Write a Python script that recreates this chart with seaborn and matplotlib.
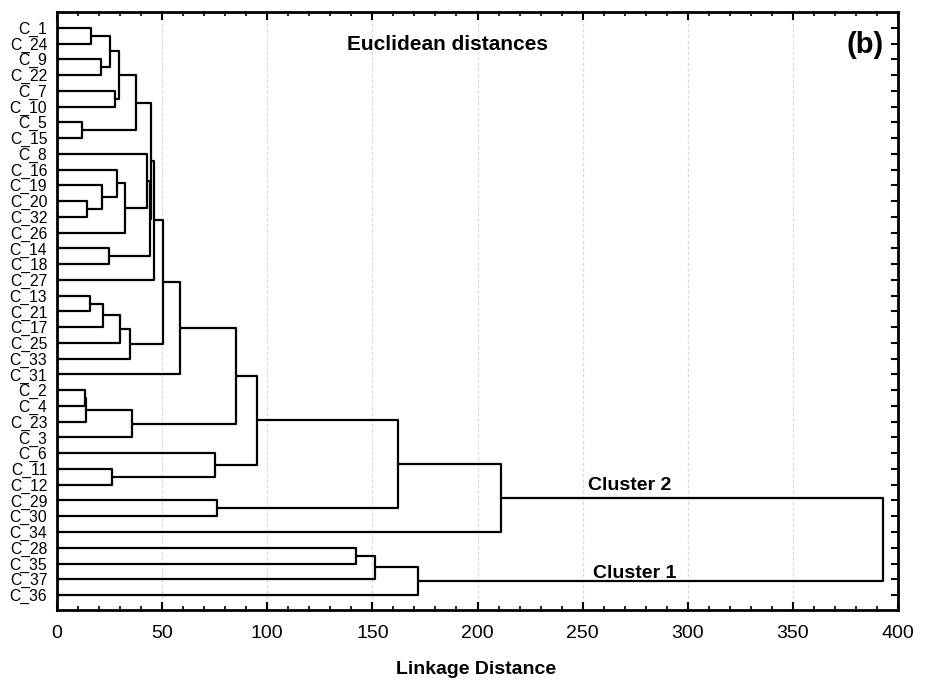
import numpy as np
import pandas as pd
import matplotlib
matplotlib.use("Agg")
import matplotlib.pyplot as plt
import seaborn as sns
from matplotlib.ticker import MultipleLocator

# Leaf order (top to bottom)
leaves = ["C_1", "C_24", "C_9", "C_22", "C_7", "C_10", "C_5", "C_15", "C_8",
          "C_16", "C_19", "C_20", "C_32", "C_26", "C_14", "C_18", "C_27",
          "C_13", "C_21", "C_17", "C_25", "C_33", "C_31", "C_2", "C_4",
          "C_23", "C_3", "C_6", "C_11", "C_12", "C_29", "C_30", "C_34",
          "C_28", "C_35", "C_37", "C_36"]

# Merges: child references are leaf names (str) or earlier merge indices (int)
merge_a = ["C_1", "C_9", 0, "C_7", 2, "C_5", 4,
           "C_20", 7, "C_16", 9, "C_8", "C_14", 11,
           6, 14, "C_13", 16, 17, 18, 15, 20,
           "C_2", 22, 23, 21, "C_11", "C_6", 25, "C_29", 28, 30,
           "C_28", 32, 33, 31]
merge_b = ["C_24", "C_22", 1, "C_10", 3, "C_15", 5,
           "C_32", "C_19", 8, "C_26", 10, "C_18", 12,
           13, "C_27", "C_21", "C_17", "C_25", "C_33", 19, "C_31",
           "C_4", "C_23", "C_3", 24, "C_12", 26, 27, "C_30", 29, "C_34",
           "C_35", "C_37", "C_36", 34]
heights = [16.1, 21.0, 25.4, 27.8, 29.5, 11.9, 37.5,
           14.4, 21.3, 28.4, 32.4, 42.7, 24.9, 44.1,
           44.8, 45.9, 15.7, 22.0, 30.0, 34.8, 50.6, 58.3,
           13.3, 13.8, 35.6, 85.1, 26.3, 75.2, 95.0, 76.2, 162.2, 211.0,
           142.2, 151.4, 171.6, 392.7]

ticks_major = [0, 50, 100, 150, 200, 250, 300, 350, 400]

sns.set_theme(style="white")
plt.rcParams['font.family'] = ['Liberation Sans', 'DejaVu Sans']
plt.rcParams['text.color'] = 'black'
plt.rcParams['axes.labelcolor'] = 'black'
plt.rcParams['xtick.color'] = 'black'
plt.rcParams['ytick.color'] = 'black'

pos = {name: i for i, name in enumerate(leaves)}
node_y = {}


def get(ref):
    if isinstance(ref, str):
        return float(pos[ref]), 0.0
    return node_y[ref], heights[ref]


rows = []
for k, (a, b, h) in enumerate(zip(merge_a, merge_b, heights)):
    ya, ha = get(a)
    yb, hb = get(b)
    for order, (d, y) in enumerate([(ha, ya), (h, ya), (h, yb), (hb, yb)]):
        rows.append((k, order, d, y))
    node_y[k] = (ya + yb) / 2.0

df = pd.DataFrame(rows, columns=["seg", "order", "dist", "leaf"])

fig = plt.figure(figsize=(9.3, 6.83), dpi=100)
ax = fig.add_axes([57 / 930, 1 - 610 / 683, (898 - 57) / 930, (610 - 12) / 683])

for t in ticks_major[1:-1]:
    ax.axvline(t, color="#dadada", linestyle=(0, (3, 2)), linewidth=0.8, zorder=0)

sns.lineplot(data=df, x="dist", y="leaf", units="seg", estimator=None,
             sort=False, color="black", linewidth=1.6, ax=ax, legend=False)

ax.set_xlim(0, 400)
ax.set_ylim(36.95, -1.0)
ax.set_xticks(ticks_major)
ax.set_xticklabels([str(t) for t in ticks_major], fontsize=14, color="black")
ax.xaxis.set_minor_locator(MultipleLocator(10))
ax.set_yticks(range(len(leaves)))
ax.set_yticklabels(leaves, fontsize=11.3, color="black")
ax.set_xlabel("")
ax.set_ylabel("")

ax.tick_params(axis="x", which="major", direction="in", length=6, width=1.5,
               top=True, bottom=True, pad=11, colors="black")
ax.tick_params(axis="x", which="minor", direction="in", length=3, width=1.2,
               top=True, bottom=True, colors="black")
ax.tick_params(axis="y", which="major", direction="in", length=5, width=1.5,
               left=True, right=True, pad=7, colors="black")

for s in ax.spines.values():
    s.set_visible(True)
    s.set_linewidth(2.0)
    s.set_color("black")

ax.text(476 / 930, 1 - 669 / 683, "Linkage Distance", fontsize=14,
        fontweight="bold", ha="center", va="center", color="black",
        transform=fig.transFigure, clip_on=False)
ax.text(347 / 930, 1 - 45 / 683, "Euclidean distances", fontsize=15,
        fontweight="bold", ha="left", va="center", color="black",
        transform=fig.transFigure, clip_on=False, zorder=5)
ax.text(865 / 930, 1 - 45 / 683, "(b)", fontsize=21,
        fontweight="bold", ha="center", va="center", color="black",
        transform=fig.transFigure, clip_on=False, zorder=5)

ax.text(252.4, 29.33, "Cluster 2", fontsize=14, fontweight="bold",
        ha="left", va="baseline", color="black", zorder=5)
ax.text(255.0, 34.92, "Cluster 1", fontsize=14, fontweight="bold",
        ha="left", va="baseline", color="black", zorder=5)

fig.savefig("out.png", dpi=100)
